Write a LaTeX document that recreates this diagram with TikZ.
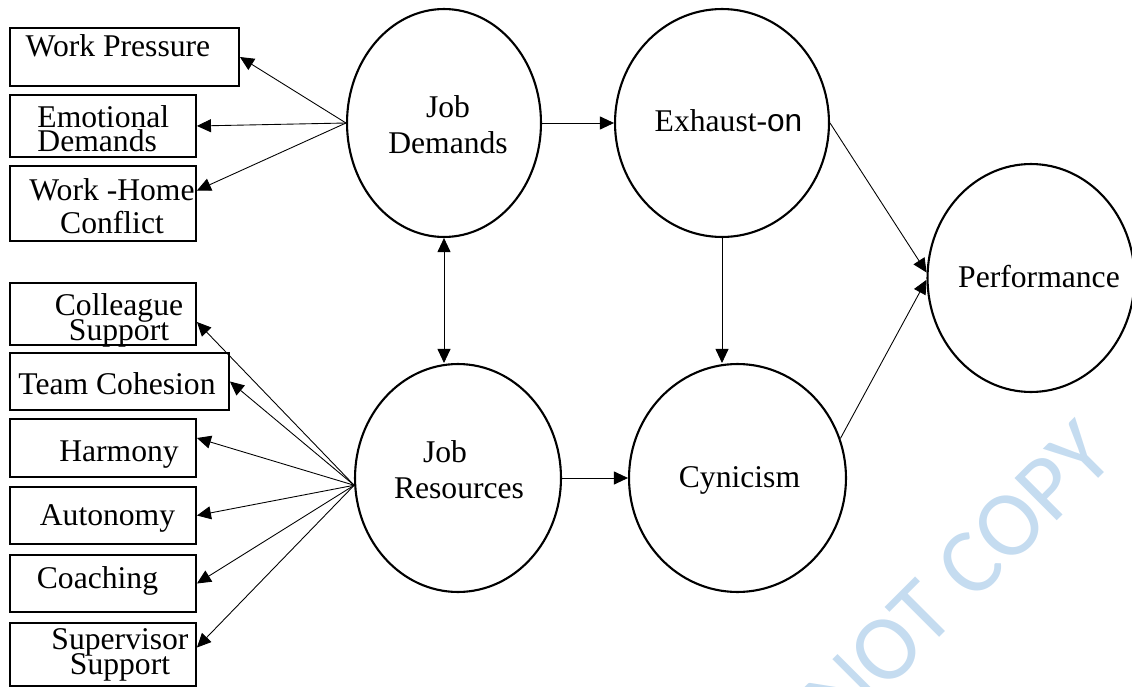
\documentclass[tikz,border=0pt]{standalone}
\usepackage{fontspec}
\setmainfont{Liberation Serif}
\newfontfamily\sansfam{Liberation Sans}
\newfontfamily\markfam{Carlito}
\usepackage{tikz}
\usetikzlibrary{arrows.meta,shapes.geometric}
\definecolor{wmblue}{RGB}{197,220,240}
\newcommand\tightfont{\fontsize{18}{14.2}\selectfont\lineskiplimit=-20pt\relax}

\begin{document}
\begin{tikzpicture}[x=0.02cm, y=-0.02cm, >={Triangle[length=0.28cm,width=0.26cm]}, line width=0.5pt, font=\fontsize{18}{20.4}\selectfont]
		\tikzset{latent/.style={draw, ellipse, line width=1.2pt, inner sep=0pt, minimum height=4.56cm},
			ind/.style={draw, rectangle, line width=1.1pt, inner sep=0pt, minimum width=3.72cm},
			txt/.style={inner sep=0pt, align=center},
			tight/.style={font=\tightfont}}
		\useasboundingbox (0,0) rectangle (1132,686);
		% watermark
		\node[rotate=45, text=wmblue, inner sep=0pt, font=\markfam\fontsize{53}{53}\selectfont] (wm) at (959,576) {NOT COPY};
		% latent variables
		\node[latent, minimum width=3.88cm] (jd) at (444,123) {};
		\node[latent, minimum width=4.28cm] (ex) at (722,123) {};
		\node[latent, minimum width=4.12cm] (jr) at (458,478) {};
		\node[latent, minimum width=4.34cm] (cy) at (737.5,478) {};
		\node[latent, minimum width=4.14cm] (pf) at (1031,278) {};
		\node[txt] (jd-t) at (448,125) {Job\\Demands};
		\node[txt] (ex-t) at (728.5,121) {Exhaust-{\sansfam on}};
		\node[txt] (jr-t) at (459,470) {Job\hspace*{0.56cm}\\Resources};
		\node[txt] (cy-t) at (739.5,480.6) {Cynicism};
		\node[txt] (pf-t) at (1039,277) {Performance};
		% indicator boxes
		\node[ind, minimum width=4.58cm, minimum height=1.16cm] (wp) at (124.5,57) {};
		\node[ind, minimum height=1.24cm] (ed) at (103,126) {};
		\node[ind, minimum height=1.5cm] (wh) at (103,203.5) {};
		\node[ind, minimum height=1.24cm] (cs) at (103,314) {};
		\node[ind, minimum width=4.38cm, minimum height=1.14cm] (tc) at (119.5,381.5) {};
		\node[ind, minimum height=1.16cm] (hm) at (103,448) {};
		\node[ind, minimum height=1.14cm] (au) at (103,515.5) {};
		\node[ind, minimum height=1.14cm] (co) at (103,583.5) {};
		\node[ind, minimum height=1.26cm] (ss) at (103,654.5) {};
		\node[txt] (wp-t) at (118,46) {Work Pressure};
		\node[txt, tight, align=left, anchor=west] (ed-t) at (37,128.7) {Emotional\\Demands};
		\node[txt, font=\fontsize{18}{18.8}\selectfont] (wh-t) at (112,205.7) {Work -Home\\Conflict};
		\node[txt, tight] (cs-t) at (119,320) {Colleague\\Support};
		\node[txt] (tc-t) at (117,384) {Team Cohesion};
		\node[txt] (hm-t) at (119,454.6) {Harmony};
		\node[txt] (au-t) at (107.5,518) {Autonomy};
		\node[txt] (co-t) at (97.5,580.6) {Coaching};
		\node[txt, tight] (ss-t) at (120,655) {Supervisor\\Support};
		% measurement paths
		\draw[->] (jd.west) -- (wp.east);
		\draw[->] (jd.west) -- (ed.east);
		\draw[->] (jd.west) -- ([yshift=0.26cm]wh.east);
		\draw[->] (jr.184) -- ([yshift=-0.16cm]cs.east);
		\draw[->] (jr.184) -- (tc.east);
		\draw[->] (jr.184) -- ([yshift=0.2cm]hm.east);
		\draw[->] (jr.184) -- (au.east);
		\draw[->] (jr.184) -- (co.east);
		\draw[->] (jr.184) -- ([yshift=0.14cm]ss.east);
		% structural paths
		\draw[->] (jd.east) -- (ex.west);
		\draw[<->] (jd.south) -- (jd.south |- jr.north);
		\draw[->] (ex.south) -- (ex.south |- cy.north);
		\draw[->] (jr.east) -- (cy.west);
		\draw[->] (ex.east) -- (pf.177);
		\draw[->] (cy.21) -- (pf.181);
	\end{tikzpicture}
\end{document}
